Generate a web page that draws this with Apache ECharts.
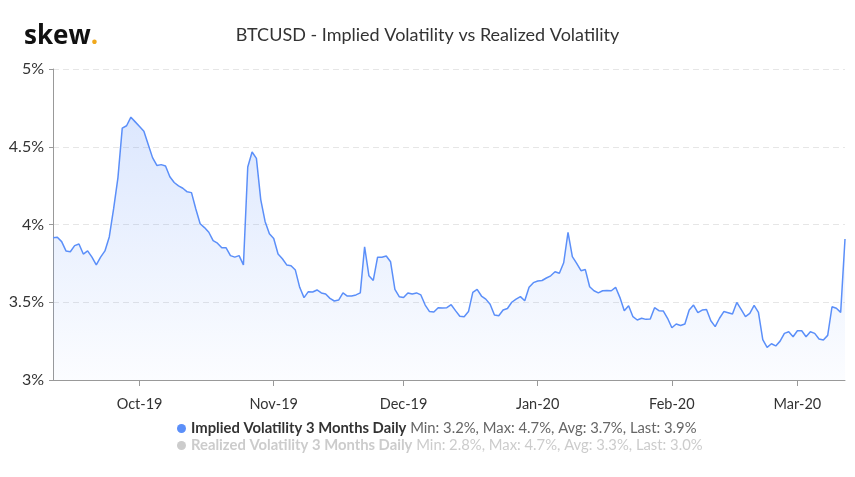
<!DOCTYPE html>
<html><head><meta charset="utf-8">
<script src="https://cdn.jsdelivr.net/npm/echarts@6/dist/echarts.min.js"></script>
<style>html,body{margin:0;padding:0;background:#fff}#c{width:855px;height:477px}</style>
</head><body><div id="c"></div>
<script>
// ---- data ----
const startDate = [2019, 9, 11]; // first daily observation (y, m, d)
const impliedVol = [
  3.915, 3.918, 3.89, 3.83, 3.825, 3.864, 3.875, 3.81, 3.83, 3.79,
  3.74, 3.79, 3.83, 3.92, 4.10, 4.30, 4.62, 4.635, 4.69, 4.66,
  4.63, 4.60, 4.515, 4.43, 4.38, 4.385, 4.376, 4.307, 4.27, 4.248,
  4.233, 4.21, 4.205, 4.10, 4.005, 3.98, 3.95, 3.896, 3.88, 3.85,
  3.85, 3.80, 3.79, 3.80, 3.74, 4.37, 4.466, 4.425, 4.16, 4.02,
  3.94, 3.91, 3.81, 3.78, 3.74, 3.735, 3.707, 3.596, 3.53, 3.568,
  3.566, 3.579, 3.56, 3.553, 3.525, 3.508, 3.514, 3.56, 3.54, 3.54,
  3.547, 3.56, 3.857, 3.67, 3.64, 3.79, 3.79, 3.797, 3.76, 3.583,
  3.536, 3.53, 3.56, 3.553, 3.56, 3.547, 3.482, 3.44, 3.437, 3.465,
  3.463, 3.465, 3.484, 3.446, 3.41, 3.407, 3.44, 3.564, 3.583, 3.54,
  3.52, 3.487, 3.418, 3.413, 3.45, 3.46, 3.50, 3.52, 3.536, 3.51,
  3.596, 3.626, 3.637, 3.64, 3.656, 3.67, 3.696, 3.686, 3.754, 3.95,
  3.793, 3.75, 3.703, 3.71, 3.60, 3.574, 3.56, 3.574, 3.576, 3.574,
  3.596, 3.53, 3.446, 3.478, 3.407, 3.386, 3.397, 3.39, 3.392, 3.465,
  3.446, 3.444, 3.397, 3.336, 3.36, 3.35, 3.36, 3.45, 3.482, 3.433,
  3.45, 3.454, 3.381, 3.343, 3.397, 3.44, 3.433, 3.424, 3.499, 3.454,
  3.407, 3.428, 3.48, 3.435, 3.26, 3.21, 3.233, 3.219, 3.25, 3.30,
  3.31, 3.278, 3.317, 3.317, 3.278, 3.31, 3.30, 3.264, 3.257, 3.287,
  3.471, 3.461, 3.435, 3.907
];
const realizedVol = []; // series is switched off in the legend, not drawn
const seriesNames = ['Implied Volatility 3 Months Daily', 'Realized Volatility 3 Months Daily'];
const legendStats = ['Min: 3.2%, Max: 4.7%, Avg: 3.7%, Last: 3.9%', 'Min: 2.8%, Max: 4.7%, Avg: 3.3%, Last: 3.0%'];
const yAxisMin = 3, yAxisMax = 5, yAxisStep = 0.5;
const monthNames = ['Jan','Feb','Mar','Apr','May','Jun','Jul','Aug','Sep','Oct','Nov','Dec'];
const titleText = 'BTCUSD - Implied Volatility vs Realized Volatility';

// ---- build categories (one per day) ----
const dates = [];
{
  const d = new Date(Date.UTC(startDate[0], startDate[1] - 1, startDate[2]));
  for (let i = 0; i < impliedVol.length; i++) {
    dates.push(d.toISOString().slice(0, 10));
    d.setUTCDate(d.getUTCDate() + 1);
  }
}
const isMonthStart = (idx, val) => String(val).slice(8, 10) === '01';

const chart = echarts.init(document.getElementById('c'), null, { renderer: 'canvas' });
chart.setOption({
  animation: false,
  backgroundColor: '#ffffff',
  title: {
    text: titleText, left: 'center', top: 21,
    textStyle: { fontFamily: 'Lato', fontSize: 18, fontWeight: 'normal', color: '#333333' }
  },
  graphic: [{
    type: 'text', left: 24, top: 24,
    style: {
      text: '{a|skew}{b|.}',
      rich: {
        a: { fontFamily: 'Open Sans', fontWeight: 'bold', fontSize: 26, fill: '#111111' },
        b: { fontFamily: 'Open Sans', fontWeight: 'bold', fontSize: 26, fill: '#f0a81c' }
      }
    }
  }],
  legend: {
    orient: 'vertical', left: 172, top: 416, itemGap: 2,
    icon: 'circle', itemWidth: 9, itemHeight: 9,
    data: seriesNames,
    selected: { [seriesNames[1]]: false },
    inactiveColor: '#cccccc',
    formatter: function (name) {
      const i = seriesNames.indexOf(name);
      return i === 0 ? '{n|' + name + '} {s|' + legendStats[0] + '}'
                     : '{ni|' + name + '} {si|' + legendStats[1] + '}';
    },
    textStyle: {
      fontFamily: 'Lato', fontSize: 14.8,
      rich: {
        n: { fontFamily: 'Lato', fontSize: 14.8, fontWeight: 'bold', color: '#333333' },
        s: { fontFamily: 'Lato', fontSize: 14.8, color: '#666666' },
        ni: { fontFamily: 'Lato', fontSize: 14.8, fontWeight: 'bold', color: '#cccccc' },
        si: { fontFamily: 'Lato', fontSize: 14.8, color: '#cccccc' }
      }
    }
  },
  grid: { left: 53, right: 10, top: 69, bottom: 97, containLabel: false },
  xAxis: {
    type: 'category', data: dates, boundaryGap: false,
    axisLine: { lineStyle: { color: '#999999', width: 1 } },
    axisTick: { show: true, interval: isMonthStart, length: 6, lineStyle: { color: '#999999' } },
    axisLabel: {
      interval: isMonthStart, margin: 17,
      fontFamily: 'Lato', fontSize: 14.5, color: '#333333',
      formatter: function (v) { return monthNames[+v.slice(5, 7) - 1] + '-' + v.slice(2, 4); }
    },
    splitLine: { show: false }
  },
  yAxis: {
    type: 'value', min: yAxisMin, max: yAxisMax, interval: yAxisStep,
    axisLine: { show: true, lineStyle: { color: '#999999', width: 1 } },
    axisTick: { show: true, length: 4, lineStyle: { color: '#999999' } },
    axisLabel: { fontFamily: 'Lato', fontSize: 16, color: '#333333', margin: 9, formatter: v => v + '%' },
    splitLine: { show: true, lineStyle: { color: '#e6e6e6', type: [6, 4], width: 1 } }
  },
  series: [{
    name: seriesNames[0], type: 'line', data: impliedVol,
    showSymbol: false, symbol: 'none', smooth: false,
    color: '#5b8ff9',
    lineStyle: { color: '#5b8ff9', width: 1.5 },
    areaStyle: {
      color: new echarts.graphic.LinearGradient(0, 0, 0, 1, [
        { offset: 0, color: 'rgba(91,143,249,0.30)' },
        { offset: 1, color: 'rgba(91,143,249,0.03)' }
      ])
    }
  }, {
    name: seriesNames[1], type: 'line', data: realizedVol,
    showSymbol: false, color: '#aaaaaa'
  }]
});
</script></body></html>
